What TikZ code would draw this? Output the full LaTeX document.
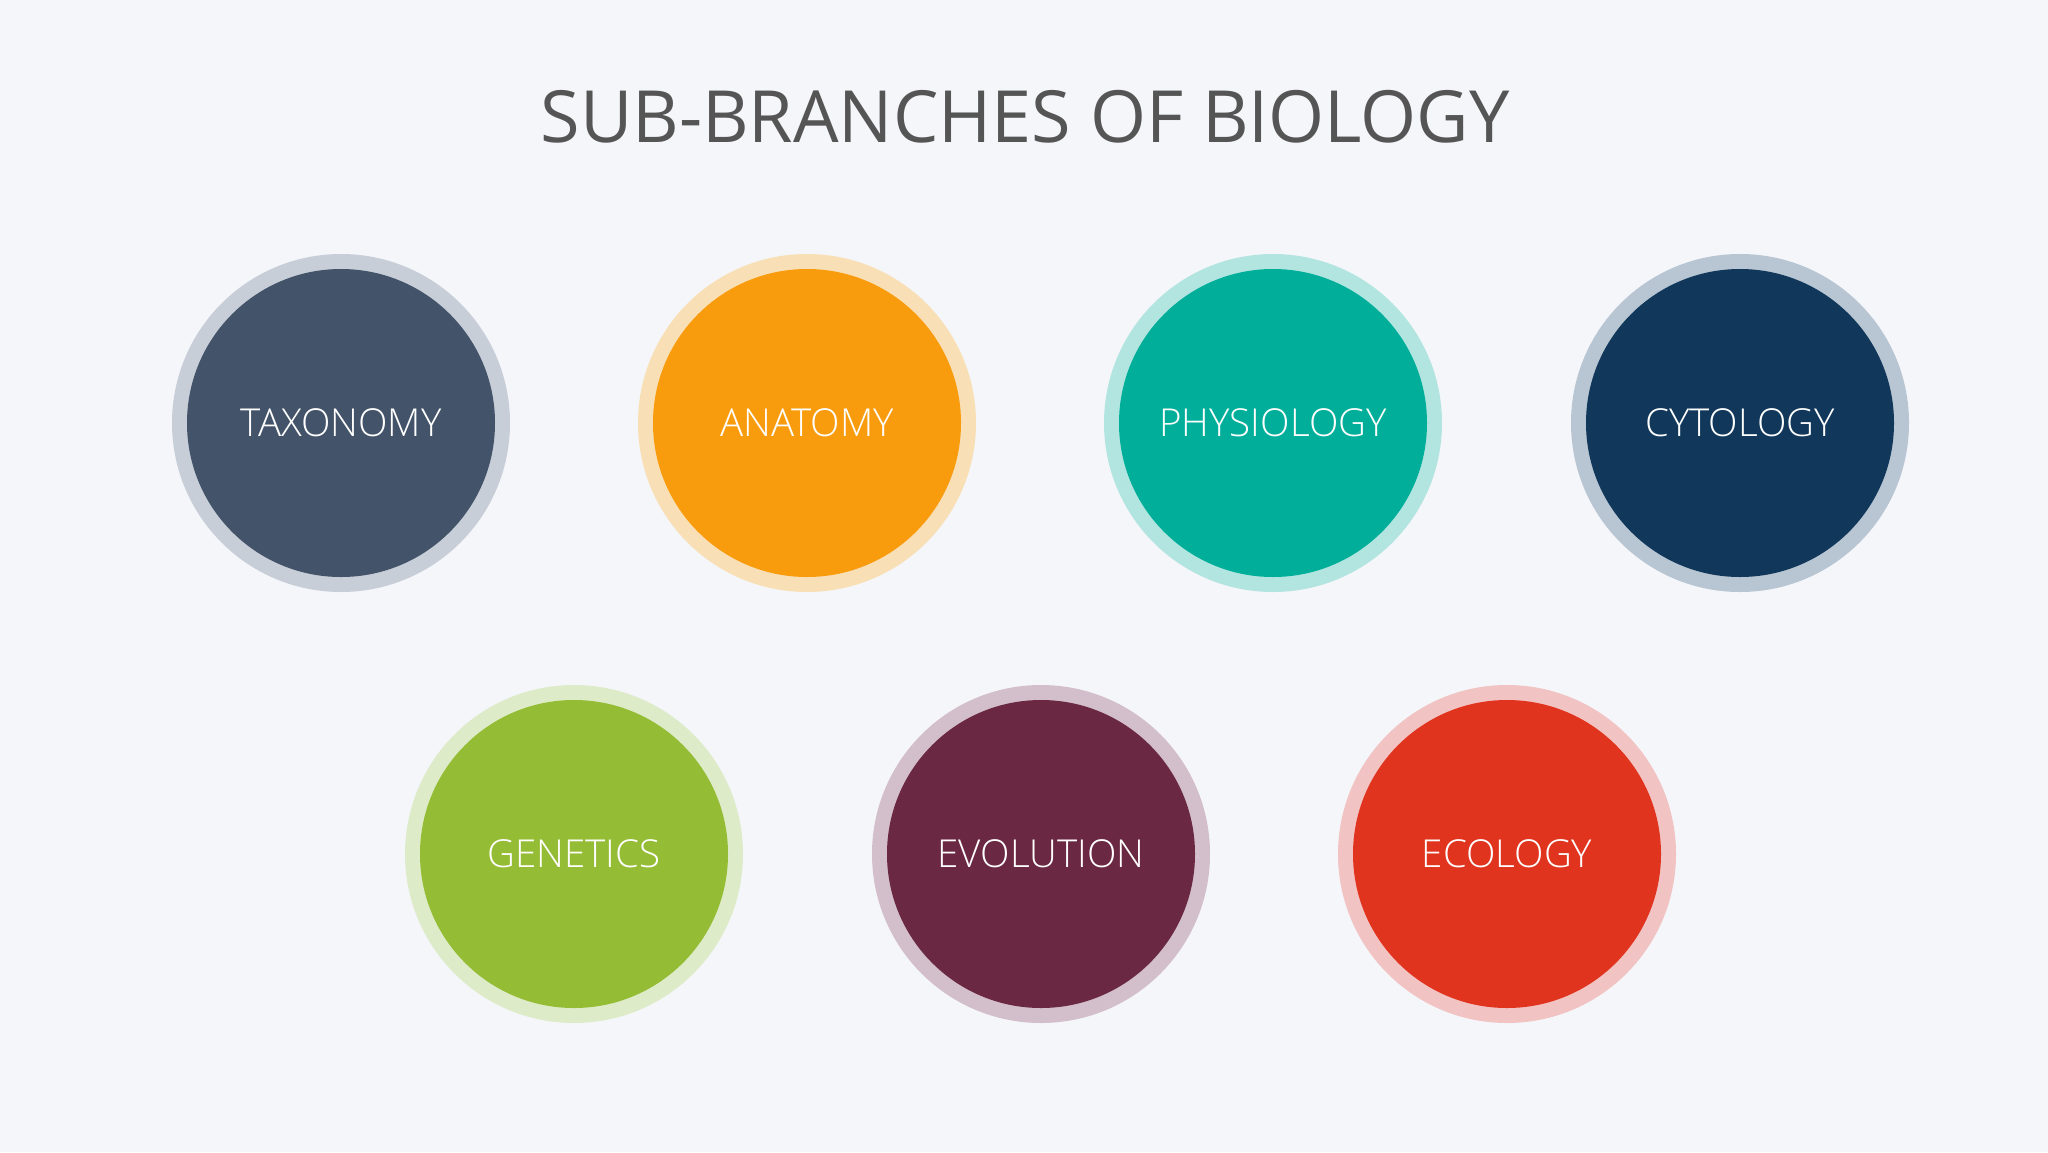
\documentclass[tikz,border=0pt]{standalone}
\usepackage{fontspec}
\setmainfont{Open Sans}
\newfontfamily\lightfont{Open Sans Light}
\definecolor{bg}{HTML}{F5F6FA}
\definecolor{titlecol}{HTML}{555555}
\definecolor{taxI}{HTML}{435369}\definecolor{taxO}{HTML}{C8CED8}
\definecolor{anaI}{HTML}{F89C0E}\definecolor{anaO}{HTML}{F8DFB5}
\definecolor{phyI}{HTML}{00AE9A}\definecolor{phyO}{HTML}{B2E5E0}
\definecolor{cytI}{HTML}{11385A}\definecolor{cytO}{HTML}{B8C5D2}
\definecolor{genI}{HTML}{94BC34}\definecolor{genO}{HTML}{DDEBC8}
\definecolor{evoI}{HTML}{6A2842}\definecolor{evoO}{HTML}{D3BFCB}
\definecolor{ecoI}{HTML}{E0341F}\definecolor{ecoO}{HTML}{F2C3C3}
\tikzset{
  ring/.style={circle, minimum size=338pt, inner sep=0pt, fill=#1},
  disc/.style={circle, minimum size=308pt, inner sep=0pt, fill=#1, text=white,
    font=\lightfont\fontsize{38.5pt}{42pt}\selectfont},
}
\begin{document}
\begin{tikzpicture}[x=1pt,y=-1pt]
\fill[bg] (0,0) rectangle (2048,1152);
\useasboundingbox (0,0) rectangle (2048,1152);
\node[text=titlecol, font=\fontsize{72pt}{78pt}\selectfont, inner sep=0pt] (title) at (1025,117) {SUB-BRANCHES OF BIOLOGY};
% top row
\node[ring=taxO] (taxR) at (341,423) {};
\node[disc=taxI] (tax) at (341,423) {TAXONOMY};
\node[ring=anaO] (anaR) at (807,423) {};
\node[disc=anaI] (ana) at (807,423) {ANATOMY};
\node[ring=phyO] (phyR) at (1273,423) {};
\node[disc=phyI] (phy) at (1273,423) {PHYSIOLOGY};
\node[ring=cytO] (cytR) at (1740,423) {};
\node[disc=cytI] (cyt) at (1740,423) {CYTOLOGY};
% bottom row
\node[ring=genO] (genR) at (574,854) {};
\node[disc=genI] (gen) at (574,854) {GENETICS};
\node[ring=evoO] (evoR) at (1041,854) {};
\node[disc=evoI] (evo) at (1041,854) {EVOLUTION};
\node[ring=ecoO] (ecoR) at (1507,854) {};
\node[disc=ecoI] (eco) at (1507,854) {ECOLOGY};
\end{tikzpicture}
\end{document}
